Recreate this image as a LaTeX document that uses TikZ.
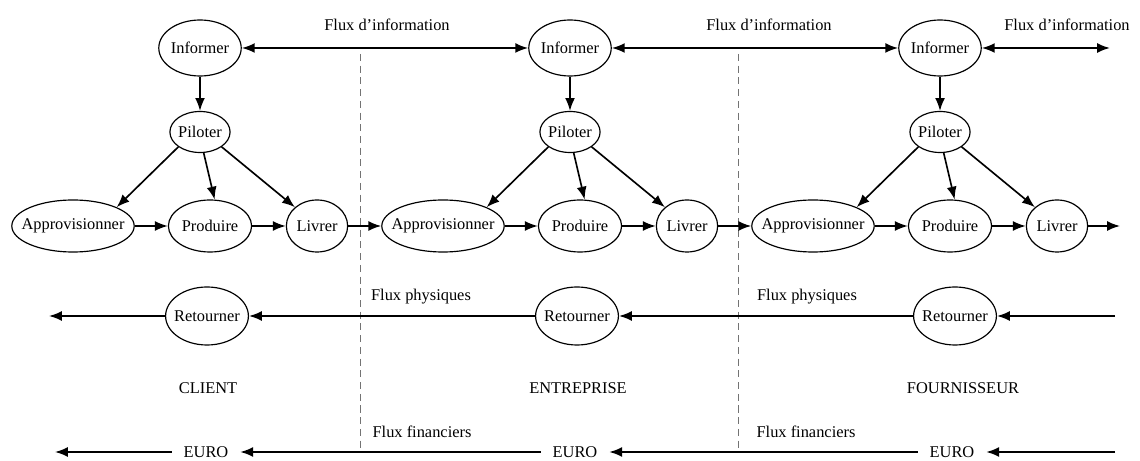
\documentclass[tikz,border=0pt]{standalone}
\usepackage{fontspec}
\setmainfont{Liberation Serif}
\usetikzlibrary{arrows.meta,shapes.geometric}

\begin{document}
\begin{tikzpicture}[x=0.03cm,y=-0.03cm,
  font=\fontsize{14pt}{16pt}\selectfont,
  ell/.style={draw, ellipse, line width=1pt, inner sep=0pt},
  infbox/.style={ell, minimum height=1.68cm},
  pilbox/.style={ell, minimum height=1.23cm, inner xsep=-0.5pt},
  rowbox/.style={ell, minimum height=1.56cm, inner xsep=1pt},
  appbox/.style={ell, minimum height=1.56cm, inner xsep=-7pt},
  retbox/.style={ell, minimum height=1.74cm, inner xsep=-3pt},
  eurobox/.style={inner xsep=10pt},
  flow/.style={line width=1.4pt, -{Latex[length=11pt,width=8.5pt]}},
  info/.style={line width=1.6pt, {Latex[length=11pt,width=8.5pt]}-{Latex[length=11pt,width=8.5pt]}},
  sep/.style={dash pattern=on 6pt off 4pt, black!55, line width=0.7pt}]
\useasboundingbox (0,0) rectangle (1140,461);
% Separators between the three actors
\draw[sep] (360,54) -- (360,452);
\draw[sep] (738,54) -- (738,452);
% One link of the chain per actor
\foreach \i/\x in {1/0,2/370,3/740} {
  \node[infbox] (inf\i) at (200+\x,48) {Informer};
  \node[pilbox] (pil\i) at (200+\x,132) {Piloter};
  \node[appbox] (app\i) at (73+\x,226) {Approvisionner};
  \node[rowbox] (pro\i) at (210+\x,226) {Produire};
  \node[rowbox] (liv\i) at (317+\x,226) {Livrer};
  \draw[flow] (inf\i) -- (pil\i);
  \draw[flow] (pil\i.south west) -- (app\i.north east);
  \draw[flow] (pil\i.-80) -- (pro\i.80);
  \draw[flow] (pil\i.south east) -- (liv\i.north west);
  \draw[flow] (app\i) -- (pro\i);
  \draw[flow] (pro\i) -- (liv\i);
}
\coordinate (livend) at (1120,226);
\draw[flow] (liv1) -- (app2);
\draw[flow] (liv2) -- (app3);
\draw[flow] (liv3) -- (livend);
% Flux d'information
\coordinate (infend) at (1110,48);
\draw[info] (inf1) -- (inf2);
\draw[info] (inf2) -- (inf3);
\draw[info] (inf3) -- (infend);
\node (fi1) at (387,25) {Flux d'information};
\node (fi2) at (769,25) {Flux d'information};
\node (fi3) at (1067,25) {Flux d'information};
% Flux physiques (retours)
\foreach \i/\x in {1/207,2/577,3/955}
  \node[retbox] (ret\i) at (\x,316) {Retourner};
\coordinate (retin) at (1115,316);
\coordinate (retout) at (49,316);
\draw[flow] (retin) -- (ret3);
\draw[flow] (ret3) -- (ret2);
\draw[flow] (ret2) -- (ret1);
\draw[flow] (ret1) -- (retout);
\node (fp1) at (421,297) {Flux physiques};
\node (fp2) at (807,297) {Flux physiques};
% Actors
\node (cli) at (208,388) {CLIENT};
\node (ent) at (578,388) {ENTREPRISE};
\node (fou) at (963,388) {FOURNISSEUR};
% Flux financiers
\foreach \i/\x in {1/206,2/575,3/952}
  \node[eurobox] (eur\i) at (\x,452) {EURO};
\coordinate (eurin) at (1115,452);
\coordinate (eurout) at (55,452);
\draw[flow] (eurin) -- (eur3);
\draw[flow] (eur3) -- (eur2);
\draw[flow] (eur2) -- (eur1);
\draw[flow] (eur1) -- (eurout);
\node (ff1) at (422,432) {Flux financiers};
\node (ff2) at (806,432) {Flux financiers};
\end{tikzpicture}
\end{document}
